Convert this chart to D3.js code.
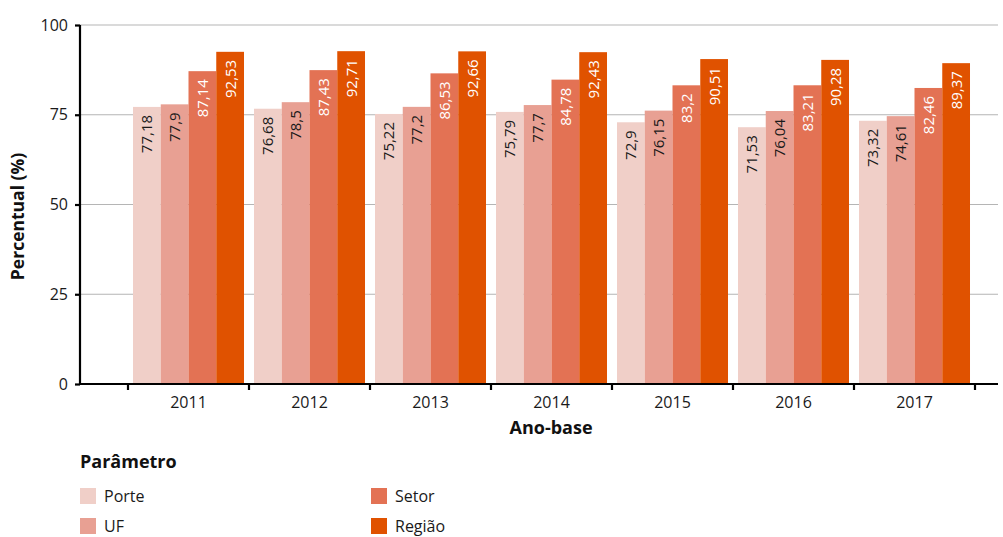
<!DOCTYPE html>
<html>
<head>
<meta charset="utf-8">
<script src="https://cdn.jsdelivr.net/npm/d3@7"></script>
<style>
  body { margin: 0; background: #fff; }
  svg { display: block; font-family: "Open Sans", "Noto Sans", sans-serif; }
</style>
</head>
<body>
<svg id="chart" width="1003" height="537"></svg>
<script>
// ── Data ───────────────────────────────────────────────────────────────────
const years  = ['2011', '2012', '2013', '2014', '2015', '2016', '2017'];
const series = ['Porte', 'UF', 'Setor', 'Região'];
const porte  = [77.18, 76.68, 75.22, 75.79, 72.9, 71.53, 73.32];
const uf     = [77.9, 78.5, 77.2, 77.7, 76.15, 76.04, 74.61];
const setor  = [87.14, 87.43, 86.53, 84.78, 83.2, 83.21, 82.46];
const regiao = [92.53, 92.71, 92.66, 92.43, 90.51, 90.28, 89.37];
const yTicks = [0, 25, 50, 75, 100];

const COLOR = { 'Porte':'#f0cfc8', 'UF':'#e8a093', 'Setor':'#e37254', 'Região':'#e05200' };
const LABEL = { 'Porte':'#1a1a1a', 'UF':'#1a1a1a', 'Setor':'#fff', 'Região':'#fff' };

const values = { 'Porte': porte, 'UF': uf, 'Setor': setor, 'Região': regiao };
const rows = years.map((y, i) => ({ year: y, vals: series.map(s => ({ key: s, v: values[s][i] })) }));

// ── Layout ─────────────────────────────────────────────────────────────────
const svg = d3.select('#chart');
const axisX = 80, plotRight = 998, plotTop = 25, base = 384;
const bandL = 128, bandR = 975;

const x  = d3.scaleBand().domain(years).range([bandL, bandR]).paddingInner(0).paddingOuter(0);
const xs = d3.scaleBand().domain(series).range([0, x.bandwidth()]).paddingOuter(0.18).paddingInner(0);
const y  = d3.scaleLinear().domain([0, 100]).range([base, plotTop]);

// gridlines
svg.append('g').selectAll('line')
  .data(yTicks.filter(t => t > 0))
  .join('line')
  .attr('x1', axisX).attr('x2', plotRight)
  .attr('y1', d => y(d)).attr('y2', d => y(d))
  .attr('stroke', '#b5b5b5').attr('stroke-width', 1.2);

// bars
const groups = svg.append('g').selectAll('g')
  .data(rows).join('g')
  .attr('transform', d => `translate(${x(d.year)},0)`);

groups.selectAll('rect')
  .data(d => d.vals).join('rect')
  .attr('x', d => xs(d.key)).attr('width', xs.bandwidth())
  .attr('y', d => y(d.v)).attr('height', d => base - y(d.v))
  .attr('fill', d => COLOR[d.key]);

groups.selectAll('text')
  .data(d => d.vals).join('text')
  .attr('transform', d => `translate(${xs(d.key) + xs.bandwidth() / 2 + 5.5},${y(d.v) + 8}) rotate(-90)`)
  .attr('text-anchor', 'end')
  .attr('font-size', '15px')
  .attr('fill', d => LABEL[d.key])
  .text(d => String(d.v).replace('.', ','));

// y axis
const yAxis = svg.append('g').attr('transform', `translate(${axisX},0)`)
  .call(d3.axisLeft(y).tickValues(yTicks).tickSize(5).tickPadding(7));
yAxis.select('.domain').attr('d', `M0,${plotTop}V${base + 1}`).attr('stroke', '#000').attr('stroke-width', 2.2);
yAxis.selectAll('.tick line').attr('stroke', '#000').attr('stroke-width', 2.2);
yAxis.selectAll('.tick text').attr('font-size', '16px').attr('fill', '#1a1a1a')
  .attr('font-family', '"Open Sans", "Noto Sans", sans-serif');

// x axis
const xAxisG = svg.append('g').attr('transform', `translate(0,${base})`);
xAxisG.append('line')
  .attr('x1', axisX - 1).attr('x2', plotRight)
  .attr('stroke', '#000').attr('stroke-width', 2.2);
const boundaries = years.map(yr => x(yr)).concat([x(years[years.length - 1]) + x.step()]);
xAxisG.selectAll('line.tk').data(boundaries).join('line').attr('class', 'tk')
  .attr('x1', d => d).attr('x2', d => d).attr('y1', 0).attr('y2', 6)
  .attr('stroke', '#000').attr('stroke-width', 2.2);
xAxisG.selectAll('text').data(years).join('text')
  .attr('x', d => x(d) + x.bandwidth() / 2).attr('y', 24)
  .attr('text-anchor', 'middle').attr('font-size', '16px').attr('fill', '#1a1a1a')
  .text(d => d);

// axis titles
svg.append('text')
  .attr('x', 551).attr('y', 434)
  .attr('text-anchor', 'middle').attr('font-size', '18px').attr('font-weight', 'bold')
  .attr('fill', '#111').text('Ano-base');
svg.append('text')
  .attr('transform', `translate(24,${(plotTop + base) / 2 + 12}) rotate(-90)`)
  .attr('text-anchor', 'middle').attr('font-size', '17.5px').attr('font-weight', 'bold')
  .attr('fill', '#111').text('Percentual (%)');

// ── Legend ─────────────────────────────────────────────────────────────────
const legend = svg.append('g');
legend.append('text').attr('x', 80).attr('y', 468)
  .attr('font-size', '18px').attr('font-weight', 'bold').attr('fill', '#111').text('Parâmetro');
const lpos = [[80, 488], [80, 518], [371, 488], [371, 518]];
const items = legend.selectAll('g.item').data(series).join('g').attr('class', 'item')
  .attr('transform', (d, i) => `translate(${lpos[i][0]},${lpos[i][1]})`);
items.append('rect').attr('width', 16).attr('height', 16).attr('fill', d => COLOR[d]);
items.append('text').attr('x', 24).attr('y', 13.5)
  .attr('font-size', '16px').attr('fill', '#1a1a1a').text(d => d);
</script>
</body>
</html>
